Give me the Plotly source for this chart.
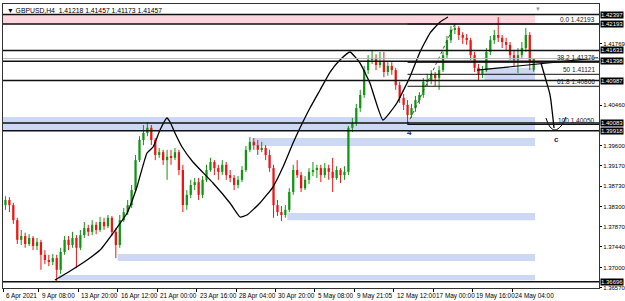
import plotly.graph_objects as go

title_text = "\u25bc GBPUSD,H4  1.41218 1.41457 1.41173 1.41457"

# H4 bar index counted from 6 Apr 2021 (one candle drawn per two H4 bars)
bar_t = list(range(1, 270, 2))

opens = [1.3833,1.3844,1.3833,1.3801,1.3759,1.3767,1.3750,1.3763,1.3746,1.3754,
         1.3727,1.3716,1.3712,1.3720,1.3695,1.3733,1.3759,1.3748,1.3763,1.3742,
         1.3769,1.3784,1.3776,1.3791,1.3780,1.3797,1.3788,1.3806,1.3776,1.3748,
         1.3801,1.3818,1.3833,1.3865,1.3929,1.3972,1.3987,1.3998,1.3972,1.3940,
         1.3946,1.3929,1.3936,1.3934,1.3946,1.3908,1.3833,1.3855,1.3876,1.3882,
         1.3855,1.3887,1.3908,1.3925,1.3912,1.3904,1.3919,1.3897,1.3891,1.3876,
         1.3887,1.3908,1.3951,1.3968,1.3961,1.3951,1.3955,1.3940,1.3912,1.3833,
         1.3818,1.3812,1.3823,1.3861,1.3908,1.3897,1.3869,1.3887,1.3904,1.3908,
         1.3912,1.3897,1.3912,1.3904,1.3891,1.3908,1.3897,1.3904,1.3998,1.4008,
         1.4040,1.4068,1.4121,1.4143,1.4147,1.4132,1.4138,1.4117,1.4130,1.4121,
         1.4089,1.4062,1.4047,1.4025,1.4040,1.4057,1.4068,1.4096,1.4100,1.4111,
         1.4104,1.4121,1.4153,1.4185,1.4207,1.4211,1.4196,1.4190,1.4185,1.4153,
         1.4126,1.4113,1.4121,1.4160,1.4185,1.4196,1.4190,1.4181,1.4175,1.4153,
         1.4143,1.4153,1.4168,1.4196,1.41218]
highs = [1.3852,1.3850,1.3838,1.3806,1.3780,1.3774,1.3771,1.3767,1.3763,1.3759,
         1.3737,1.3727,1.3729,1.3727,1.3742,1.3767,1.3767,1.3776,1.3769,1.3780,
         1.3797,1.3791,1.3801,1.3797,1.3808,1.3806,1.3812,1.3810,1.3784,1.3812,
         1.3827,1.3844,1.3876,1.3940,1.3980,1.4004,1.4010,1.4004,1.3976,1.3955,
         1.3951,1.3951,1.3951,1.3955,1.3951,1.3919,1.3865,1.3887,1.3891,1.3891,
         1.3895,1.3919,1.3934,1.3929,1.3919,1.3929,1.3925,1.3908,1.3897,1.3895,
         1.3916,1.3959,1.3978,1.3976,1.3972,1.3968,1.3961,1.3951,1.3919,1.3844,
         1.3831,1.3833,1.3869,1.3919,1.3929,1.3904,1.3895,1.3912,1.3925,1.3919,
         1.3919,1.3923,1.3919,1.3934,1.3916,1.3912,1.3916,1.4002,1.4019,1.4049,
         1.4079,1.4130,1.4153,1.4164,1.4155,1.4160,1.4160,1.4138,1.4138,1.4126,
         1.4096,1.4070,1.4057,1.4049,1.4066,1.4074,1.4104,1.4113,1.4121,1.4117,
         1.4130,1.4160,1.4194,1.4215,1.42193,1.4215,1.4202,1.4198,1.4190,1.4160,
         1.4134,1.4130,1.4168,1.4194,1.4207,1.4234,1.4196,1.4190,1.4181,1.4164,
         1.4168,1.4181,1.4211,1.4202,1.41457]
lows = [1.3823,1.3818,1.3793,1.3750,1.3748,1.3742,1.3746,1.3737,1.3737,1.3695,
        1.3707,1.3703,1.3705,1.3671,1.3686,1.3727,1.3737,1.3742,1.3699,1.3737,
        1.3763,1.3767,1.3769,1.3771,1.3776,1.3780,1.3784,1.3767,1.3720,1.3742,
        1.3797,1.3812,1.3827,1.3861,1.3925,1.3961,1.3980,1.3961,1.3929,1.3934,
        1.3919,1.3887,1.3919,1.3929,1.3897,1.3818,1.3823,1.3848,1.3865,1.3844,
        1.3848,1.3882,1.3904,1.3897,1.3887,1.3897,1.3887,1.3882,1.3865,1.3869,
        1.3882,1.3904,1.3946,1.3951,1.3940,1.3946,1.3929,1.3904,1.3806,1.3810,
        1.3799,1.3806,1.3818,1.3855,1.3891,1.3861,1.3865,1.3878,1.3895,1.3891,
        1.3882,1.3891,1.3887,1.3861,1.3887,1.3880,1.3887,1.3897,1.3989,1.4002,
        1.4032,1.4062,1.4113,1.4134,1.4121,1.4126,1.4106,1.4109,1.4111,1.4079,
        1.4051,1.4036,1.4005,1.4019,1.4032,1.4049,1.4062,1.4087,1.4091,1.4087,
        1.4079,1.4117,1.4147,1.4179,1.4198,1.4185,1.4177,1.4175,1.4143,1.4117,
        1.4100,1.4104,1.4117,1.4153,1.4177,1.4181,1.4168,1.4164,1.4143,1.4130,
        1.4115,1.4147,1.4160,1.4121,1.41173]
closes = [1.3844,1.3833,1.3801,1.3759,1.3767,1.3750,1.3763,1.3746,1.3754,1.3727,
          1.3716,1.3712,1.3720,1.3695,1.3733,1.3759,1.3748,1.3763,1.3742,1.3769,
          1.3784,1.3776,1.3791,1.3780,1.3797,1.3788,1.3806,1.3776,1.3748,1.3801,
          1.3818,1.3833,1.3865,1.3929,1.3972,1.3987,1.3998,1.3972,1.3940,1.3946,
          1.3929,1.3936,1.3934,1.3946,1.3908,1.3833,1.3855,1.3876,1.3882,1.3855,
          1.3887,1.3908,1.3925,1.3912,1.3904,1.3919,1.3897,1.3891,1.3876,1.3887,
          1.3908,1.3951,1.3968,1.3961,1.3951,1.3955,1.3940,1.3912,1.3833,1.3818,
          1.3812,1.3823,1.3861,1.3908,1.3897,1.3869,1.3887,1.3904,1.3908,1.3912,
          1.3897,1.3912,1.3904,1.3891,1.3908,1.3897,1.3904,1.3998,1.4008,1.4040,
          1.4068,1.4121,1.4143,1.4147,1.4132,1.4138,1.4117,1.4130,1.4121,1.4089,
          1.4062,1.4047,1.4025,1.4040,1.4057,1.4068,1.4096,1.4100,1.4111,1.4104,
          1.4121,1.4153,1.4185,1.4207,1.4211,1.4196,1.4190,1.4185,1.4153,1.4126,
          1.4113,1.4121,1.4160,1.4185,1.4196,1.4190,1.4181,1.4175,1.4153,1.4143,
          1.4153,1.4168,1.4196,1.4138,1.41457]

# x axis labels (bar index, text)
tick_bars = [0, 18, 38, 58, 78, 98, 118, 138, 158, 178, 198, 218, 238, 258]
tick_texts = ["6 Apr 2021", "9 Apr 08:00", "13 Apr 20:00", "16 Apr 12:00", "21 Apr 00:00",
              "23 Apr 16:00", "28 Apr 04:00", "30 Apr 20:00", "5 May 08:00", "9 May 21:05",
              "12 May 12:00", "17 May 00:00", "19 May 16:00", "24 May 04:00"]

# price scale labels
price_ticks = [1.36570, 1.37000, 1.37440, 1.37870, 1.38300, 1.38730, 1.39170,
               1.39600, 1.40460, 1.41769]

# horizontal levels (drawn full width, with black price tags)
levels = [1.42397, 1.42193, 1.41631, 1.41398, 1.40987, 1.40083, 1.39918, 1.36696]
bid_price = 1.41457

# Fibonacci retracement (from 12 May low to 17 May high)
fib_names = ["0.0", "38.2", "50", "61.8", "100"]
fib_values = [1.42193, 1.41376, 1.41121, 1.40866, 1.40050]
fib_start_bar = 205
fib_high_bar = 229

# zones
zone_end_bar = 269.7
pink_zone = (1.42193, 1.42397)
blue_bottom = [1.3991, 1.3959, 1.3801, 1.3714, 1.3673, 1.4100]
blue_top = [1.4021, 1.3976, 1.3816, 1.3729, 1.3684, 1.4126]
blue_start = [-0.25, 126, 144, 58, 28, 244]

# hand-drawn wave
wave_t = [26.1, 32.2, 42.4, 49.0, 55.6, 62.7, 67.7, 72.8, 75.9, 79.4, 82.9, 84.5, 87.0,
          90.6, 96.1, 106.3, 114.9, 120.0, 123.5, 130.1, 136.7, 141.8, 146.9, 150.4,
          155.5, 160.6, 165.7, 170.7, 175.8, 180.9, 185.9, 192.5, 199.6, 206.2, 211.3,
          216.4, 221.5, 225.5]
wave_p = [1.36732, 1.36882, 1.37159, 1.37372, 1.37735, 1.38162, 1.38716, 1.39442,
          1.39570, 1.39932, 1.40189, 1.40104, 1.39869, 1.39570, 1.39250, 1.38802,
          1.38375, 1.38077, 1.38119, 1.38375, 1.38716, 1.39143, 1.39655, 1.39975,
          1.40402, 1.40786, 1.41170, 1.41426, 1.41597, 1.41362, 1.40935, 1.40146,
          1.40509, 1.41064, 1.41597, 1.42002, 1.42237, 1.42344]

# trend line and projected leg to "c"
trend_t = [240.2, 301.6]
trend_p = [1.4121, 1.4147]
leg_t = [272.7, 275.2, 277.3, 278.3, 279.3]
leg_p = [1.41362, 1.40999, 1.40679, 1.40359, 1.39975]
cup_t = [275.2, 277.3, 279.8, 282.9, 285.4]
cup_p = [1.40189, 1.39998, 1.39932, 1.40018, 1.40210]

labels_t = [206.2, 280.8]
labels_p = [1.3989, 1.3972]
labels_txt = ["4", "c"]

GREEN = "#129612"
RED = "#f01414"

fig = go.Figure()

shapes = []
shapes.append(dict(type="rect", xref="x", yref="y", x0=-0.25, x1=zone_end_bar,
                   y0=pink_zone[0], y1=pink_zone[1], fillcolor="#ffd6dd",
                   line=dict(width=0), layer="below"))
for b0, b1, s in zip(blue_bottom, blue_top, blue_start):
    shapes.append(dict(type="rect", xref="x", yref="y", x0=s, x1=zone_end_bar,
                       y0=b0, y1=b1, fillcolor="#ccd8f4", line=dict(width=0), layer="below"))
shapes.append(dict(type="line", xref="paper", yref="y", x0=0, x1=1, y0=bid_price, y1=bid_price,
                   line=dict(color="#b8b8b8", width=1)))
for lv in levels:
    shapes.append(dict(type="line", xref="paper", yref="y", x0=0, x1=1, y0=lv, y1=lv,
                       line=dict(color="#111111", width=1.5)))
for fv in fib_values:
    shapes.append(dict(type="line", xref="x", yref="y", x0=fib_start_bar, x1=302.2, y0=fv, y1=fv,
                       line=dict(color="#111111", width=1)))

inc_x, inc_b, inc_h, dec_x, dec_b, dec_h = [], [], [], [], [], []
wi_x, wi_y, wd_x, wd_y = [], [], [], []
for t, o, h, l, c in zip(bar_t, opens, highs, lows, closes):
    body = max(abs(c - o), 0.00006)
    if c >= o:
        inc_x.append(t); inc_b.append(min(o, c)); inc_h.append(body)
        wi_x += [t, t, None]; wi_y += [l, h, None]
    else:
        dec_x.append(t); dec_b.append(min(o, c)); dec_h.append(body)
        wd_x += [t, t, None]; wd_y += [l, h, None]

fig.add_trace(go.Scatter(x=wi_x, y=wi_y, mode="lines", line=dict(color=GREEN, width=1), hoverinfo="skip"))
fig.add_trace(go.Scatter(x=wd_x, y=wd_y, mode="lines", line=dict(color=RED, width=1), hoverinfo="skip"))
fig.add_trace(go.Bar(x=inc_x, y=inc_h, base=inc_b, width=1.15, marker=dict(color=GREEN, line=dict(width=0))))
fig.add_trace(go.Bar(x=dec_x, y=dec_h, base=dec_b, width=1.15, marker=dict(color=RED, line=dict(width=0))))

fig.add_trace(go.Scatter(x=wave_t, y=wave_p, mode="lines", line=dict(color="black", width=1.3, shape="spline", smoothing=0.4)))
fig.add_trace(go.Scatter(x=[fib_start_bar, fib_high_bar], y=[fib_values[-1], fib_values[0]], mode="lines",
                         line=dict(color="#444444", width=1, dash="dot")))
fig.add_trace(go.Scatter(x=trend_t, y=trend_p, mode="lines", line=dict(color="black", width=1.2)))
fig.add_trace(go.Scatter(x=leg_t, y=leg_p, mode="lines", line=dict(color="black", width=1.3, shape="spline")))
fig.add_trace(go.Scatter(x=cup_t, y=cup_p, mode="lines", line=dict(color="black", width=1, shape="spline")))

ann = []
ann.append(dict(text=title_text, xref="paper", yref="paper", x=0, y=1, xanchor="left", yanchor="top",
                xshift=2, yshift=-1, showarrow=False, font=dict(size=6.8, color="black")))
ann.append(dict(text="\u25bc", xref="x", yref="paper", x=271, y=1, xanchor="center", yanchor="top",
                showarrow=False, font=dict(size=6, color="#999999")))
for t, s in zip(tick_bars, tick_texts):
    ann.append(dict(text=s, xref="x", yref="paper", x=t, y=0, xanchor="left", yanchor="top",
                    xshift=1, yshift=-2, showarrow=False, font=dict(size=6.4, color="black")))
for lv in levels:
    ann.append(dict(text="%.5f" % lv, xref="paper", yref="y", x=1, y=lv, xanchor="left", yanchor="middle",
                    xshift=1, showarrow=False, bgcolor="black", borderpad=0,
                    font=dict(size=6, color="white")))
for n, fv in zip(fib_names, fib_values):
    ann.append(dict(text="%s %.5f" % (n, fv), xref="paper", yref="y", x=1, y=fv, xanchor="right",
                    yanchor="bottom", xshift=-2, yshift=-1, showarrow=False,
                    font=dict(size=6.5, color="#222222")))
for t, p, s in zip(labels_t, labels_p, labels_txt):
    ann.append(dict(text="<b>%s</b>" % s, xref="x", yref="y", x=t, y=p, showarrow=False,
                    font=dict(size=8, color="#1a2a50")))

fig.update_layout(
    width=625, height=301, margin=dict(l=3, r=26, t=4, b=13, autoexpand=False),
    paper_bgcolor="white", plot_bgcolor="white", showlegend=False, barmode="overlay",
    font=dict(family="Liberation Sans", size=7, color="black"),
    shapes=shapes, annotations=ann,
    xaxis=dict(range=[-0.25, 302.13], showgrid=False, zeroline=False, tickvals=tick_bars,
               ticktext=[""] * len(tick_bars), ticks="outside", ticklen=3, tickcolor="black",
               showline=True, linecolor="#333333", linewidth=1, mirror=True, fixedrange=True,
               automargin=False),
    yaxis=dict(range=[1.36562, 1.42621], side="right", showgrid=False, zeroline=False,
               tickvals=price_ticks, ticktext=["%.5f" % v for v in price_ticks],
               ticks="outside", ticklen=2, tickcolor="black", tickfont=dict(size=6),
               showline=True, linecolor="#333333", linewidth=1, mirror=True, fixedrange=True,
               automargin=False),
)

fig.write_html("out.html")
